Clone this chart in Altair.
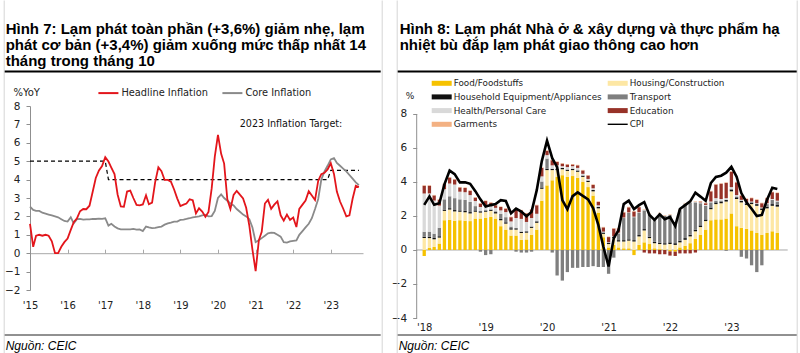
import altair as alt
import pandas as pd

# ---------------- Texts ----------------
title7 = ["Hình 7: Lạm phát toàn phần (+3,6%) giảm nhẹ, lạm",
          "phát cơ bản (+3,4%) giảm xuống mức thấp nhất 14",
          "tháng trong tháng 10"]
title8 = ["Hình 8: Lạm phát Nhà ở & xây dựng và thực phẩm hạ",
          "nhiệt bù đắp lạm phát giao thông cao hơn"]
source_txt = "Nguồn: CEIC"
unit7 = "%YoY"
unit8 = "%"
target_txt = "2023 Inflation Target:"

# ---------------- Figure 7 data: monthly Jan 2015 - Oct 2023 ----------------
headline = [
    1.60, 0.35, 0.95, 1.00, 0.95, 1.00, 0.95, 0.65, 0.00, 0.00, 0.35, 0.60,
    0.80, 1.27, 1.69, 1.89, 2.28, 2.40, 2.39, 2.58, 3.34, 4.09, 4.50, 4.74,
    5.22, 4.98, 4.65, 4.30, 3.19, 2.54, 2.52, 3.35, 3.40, 3.00, 2.62, 2.60,
    2.65, 3.15, 2.66, 2.75, 3.86, 4.67, 4.46, 3.98, 3.98, 3.89, 3.46, 2.98,
    2.56, 2.64, 2.70, 2.93, 2.88, 2.16, 2.44, 2.26, 1.98, 2.24, 3.52, 5.23,
    6.43, 5.40, 4.87, 2.93, 2.40, 3.17, 3.39, 3.18, 2.98, 2.47, 1.48, 0.19,
    -0.97, 0.70, 1.16, 2.70, 2.90, 2.41, 2.64, 2.82, 2.06, 1.77, 2.10, 1.81,
    1.94, 1.42, 2.41, 2.64, 2.86, 3.37, 3.14, 2.89, 3.94, 4.30, 4.37, 4.55,
    4.89, 4.31, 3.35, 2.81, 2.43, 2.00, 2.06, 2.96, 3.66, 3.59,
]
core = [
    2.53, 2.35, 2.30, 2.30, 2.20, 2.15, 2.10, 2.05, 2.00, 1.95, 1.85, 1.75,
    1.72, 1.95, 1.62, 1.85, 1.87, 1.83, 1.84, 1.84, 1.86, 1.86, 1.88, 1.87,
    1.90, 1.50, 1.60, 1.45, 1.35, 1.30, 1.30, 1.30, 1.30, 1.32, 1.28, 1.29,
    1.20, 1.45, 1.40, 1.36, 1.38, 1.42, 1.45, 1.55, 1.62, 1.66, 1.72, 1.72,
    1.81, 1.83, 1.86, 1.90, 1.95, 1.98, 2.00, 2.05, 2.08, 2.00, 2.02, 2.30,
    3.00, 3.20, 3.00, 2.85, 2.70, 2.60, 2.40, 2.25, 2.10, 2.00, 1.85, 1.40,
    0.60, 0.70, 0.82, 0.95, 1.08, 1.12, 1.10, 1.00, 0.90, 0.60, 0.58, 0.64,
    0.67, 0.70, 1.00, 1.20, 1.40, 1.60, 1.90, 2.40, 2.95, 4.00, 4.45, 4.75,
    5.10, 5.17, 4.90, 4.75, 4.60, 4.45, 4.25, 4.05, 3.85, 3.70,
]
series7 = ["Headline Inflation", "Core Inflation"]
colors7 = ["#e3151b", "#8a8a8a"]
target_dates = ["2015-01-01", "2017-01-01", "2017-02-01", "2022-12-01", "2023-01-01", "2023-10-01"]
target_vals = [5.0, 5.0, 4.0, 4.0, 4.5, 4.5]

# ---------------- Figure 8 data: monthly Jan 2018 - Oct 2023 ----------------
# stacking order (bottom -> top)
cats = ["Food/Foodstuffs", "Housing/Construction", "Household Equipment/Appliances",
        "Transport", "Health/Personal Care", "Education", "Garments"]
# legend order (Vega fills the 2 legend columns top-down)
legend_order = ["Food/Foodstuffs", "Household Equipment/Appliances", "Health/Personal Care", "Garments",
                "Housing/Construction", "Transport", "Education", "CPI"]
legend_colors = ["#f6c200", "#111111", "#d9d9d9", "#f3b183",
                 "#fde7a4", "#7f7f7f", "#973228", "#000000"]

food = [
    -0.35, 0.12, 0.18, 0.38, 1.75, 1.78, 1.72, 1.75, 1.72, 1.70, 1.85, 1.85,
    1.90, 1.95, 1.85, 1.40, 1.20, 0.85, 0.85, 0.60, 0.62, 0.90, 1.20, 2.90,
    3.80, 4.10, 4.30, 4.40, 4.30, 4.35, 4.25, 4.00, 3.70, 3.20, 2.20, 0.75,
    0.15, 0.30, 0.15, 0.10, 0.10, -0.30, 0.30, 0.45, 0.35, 0.10, 0.05, 0.02,
    -0.08, -0.10, 0.15, 0.25, 0.40, 0.65, 0.90, 1.20, 1.75, 1.80, 1.80, 1.85,
    2.15, 1.40, 1.30, 1.25, 1.15, 1.00, 0.90, 1.00, 1.10, 1.00,
]
housing = [
    0.70, 0.58, 0.45, 0.35, 0.55, 0.60, 0.55, 0.50, 0.50, 0.45, 0.40, 0.35,
    0.35, 0.35, 0.30, 0.35, 0.35, 0.35, 0.35, 0.40, 0.40, 0.40, 0.40, 0.70,
    0.90, 0.60, 0.40, 0.35, 0.35, 0.35, 0.35, 0.30, 0.30, 0.25, 0.25, 0.20,
    0.20, 0.40, 0.35, 0.40, 0.45, 0.50, 0.50, 0.70, 0.35, 0.30, 0.30, 0.30,
    0.35, 0.30, 0.30, 0.35, 0.40, 0.45, 0.45, 0.50, 0.65, 0.90, 0.95, 1.00,
    1.30, 1.60, 1.50, 1.40, 1.55, 1.60, 1.45, 1.45, 1.50, 1.55,
]
household = [
    0.08, 0.08, 0.08, 0.08, 0.08, 0.08, 0.08, 0.08, 0.08, 0.08, 0.08, 0.08,
    0.08, 0.08, 0.08, 0.08, 0.08, 0.08, 0.08, 0.08, 0.08, 0.08, 0.08, 0.08,
    0.08, 0.08, 0.08, 0.08, 0.08, 0.08, 0.08, 0.08, 0.08, 0.08, 0.08, 0.08,
    0.08, 0.08, 0.08, 0.08, 0.08, 0.08, 0.08, 0.08, 0.08, 0.08, 0.08, 0.08,
    0.10, 0.10, 0.10, 0.10, 0.10, 0.10, 0.10, 0.10, 0.10, 0.10, 0.10, 0.10,
    0.10, 0.10, 0.10, 0.10, 0.10, 0.10, 0.10, 0.10, 0.10, 0.10,
]
transport = [
    0.30, 0.30, 0.25, 0.50, 0.60, 0.70, 0.70, 0.65, 0.65, 0.60, 0.25, -0.10,
    -0.30, -0.25, 0.05, 0.30, 0.30, 0.10, -0.10, -0.15, -0.15, -0.10, 0.05, 0.35,
    0.60, -0.15, -1.50, -1.80, -1.30, -1.05, -1.05, -1.00, -1.00, -0.95, -1.00, -1.00,
    -1.40, -0.45, 0.40, 1.30, 1.55, 1.35, 1.30, 1.10, 1.30, 1.30, 1.70, 1.60,
    1.60, 1.10, 1.80, 2.00, 1.90, 1.60, 1.30, 0.80, 0.30, 0.10, 0.05, -0.05,
    0.05, 0.05, -0.40, -0.50, -0.90, -1.30, -0.90, 0.15, 0.25, 0.20,
]
health = [
    2.25, 2.25, 1.95, 1.30, 0.60, 0.75, 0.80, 0.45, 0.45, 0.40, 0.30, 0.25,
    0.30, 0.20, 0.20, 0.20, 0.30, 0.30, 0.60, 0.75, 0.55, 0.50, 0.40, 0.30,
    0.20, 0.20, 0.20, 0.10, 0.15, 0.15, 0.15, 0.10, 0.10, 0.10, 0.10, 0.05,
    0.03, 0.03, 0.04, 0.03, 0.03, 0.03, 0.04, 0.03, 0.03, 0.03, 0.03, 0.03,
    0.03, 0.03, 0.03, 0.04, 0.04, 0.04, 0.05, 0.05, 0.05, 0.15, 0.10, 0.10,
    0.10, 0.08, 0.05, 0.05, 0.05, 0.05, 0.05, 0.05, 0.05, 0.05,
]
education = [
    0.45, 0.45, 0.30, 0.35, 0.30, 0.35, 0.30, 0.25, 0.25, 0.25, 0.20, 0.20,
    0.25, 0.20, 0.15, 0.20, 0.20, 0.25, 0.55, 0.50, 0.50, 0.50, 0.50, 0.50,
    0.25, 0.30, 0.20, 0.15, 0.15, 0.10, 0.15, 0.20, 0.20, 0.20, 0.20, 0.25,
    0.30, 0.45, 0.25, 0.30, 0.30, 0.30, 0.30, -0.15, -0.20, -0.20, -0.25, -0.25,
    -0.25, -0.25, -0.20, -0.20, -0.20, -0.15, 0.05, 0.10, 0.60, 0.80, 0.90, 0.90,
    0.90, 0.75, 0.25, 0.20, 0.20, 0.20, 0.25, 0.30, 0.40, 0.45,
]
garments = [
    0.03, 0.03, 0.03, 0.03, 0.03, 0.03, 0.03, 0.03, 0.03, 0.03, 0.03, 0.03,
    0.03, 0.03, 0.03, 0.03, 0.03, 0.03, 0.03, 0.03, 0.03, 0.03, 0.03, 0.03,
    0.03, 0.03, 0.03, 0.03, 0.03, 0.03, 0.03, 0.03, 0.03, 0.03, 0.03, 0.03,
    0.03, 0.03, 0.03, 0.03, 0.03, 0.03, 0.03, 0.03, 0.03, 0.03, 0.03, 0.03,
    0.03, 0.03, 0.03, 0.03, 0.03, 0.03, 0.03, 0.03, 0.03, 0.03, 0.03, 0.03,
    0.03, 0.03, 0.03, 0.03, 0.03, 0.03, 0.03, 0.03, 0.03, 0.03,
]
cpi = headline[36:]  # CPI line = headline inflation from Jan 2018

# ---------------- Build tables ----------------
months7 = pd.date_range("2015-01-01", periods=len(headline), freq="MS")
df7 = pd.DataFrame({
    "date": list(months7) * 2,
    "series": [series7[0]] * len(headline) + [series7[1]] * len(core),
    "value": headline + core,
})
dft = pd.DataFrame({"date": pd.to_datetime(target_dates), "value": target_vals})

months8 = pd.date_range("2018-01-01", periods=len(food), freq="MS")
comp = [food, housing, household, transport, health, education, garments]
rows = []
for k, vals in enumerate(comp):
    for d, v in zip(months8, vals):
        rows.append({"date": d, "category": cats[k], "ord": k, "value": v})
df8 = pd.DataFrame(rows)
dfcpi = pd.DataFrame({"date": months8, "cpi": cpi})

ONE = pd.DataFrame({"k": [0]})
FONT_T = "Liberation Sans"
FONT_C = "DejaVu Sans"
GREY_AX = "#8f8f8f"
BORDER = "#d6d6d6"


def txt(s, x, y, size, weight="normal", style="normal", color="#000000", font=FONT_T):
    return alt.Chart(pd.DataFrame({"t": [s]})).mark_text(
        align="left", baseline="middle", fontSize=size, fontWeight=weight,
        fontStyle=style, color=color, font=font
    ).encode(x=alt.value(x), y=alt.value(y), text="t:N")


def hrule(x1, x2, y, w, color):
    return alt.Chart(ONE).mark_rule(strokeWidth=w, color=color).encode(
        x=alt.value(x1), x2=alt.value(x2), y=alt.value(y))


def vrule(x, y1, y2, w, color):
    return alt.Chart(ONE).mark_rule(strokeWidth=w, color=color).encode(
        x=alt.value(x), y=alt.value(y1), y2=alt.value(y2))


# ---------------- Figure 7 ----------------
W7, H7 = 333, 184
x7 = alt.Scale(domain=[alt.DateTime(year=2015, month=1, date=1), alt.DateTime(year=2023, month=11, date=10)])
y7 = alt.Scale(domain=[-2, 8], nice=False, zero=False)
c7 = alt.Scale(domain=series7, range=colors7)

ax7_bottom = alt.Axis(values=[alt.DateTime(year=y, month=1, date=1) for y in range(2015, 2024)],
                      format="'%y", ticks=False, tickSize=0, domain=False, labelPadding=10,
                      title=None, labelFlush=False, labelFont=FONT_C, labelFontSize=10,
                      labelColor="#222222")
ax7_top = alt.Axis(orient="top", offset=-147.2,
                   values=[alt.DateTime(year=y, month=1, date=1) for y in range(2016, 2024)],
                   labels=False, tickSize=4, domainColor="#a8a8a8", tickColor="#a8a8a8", title=None)
ax7_y = alt.Axis(values=list(range(-2, 9)), tickSize=4, labelPadding=6, title=None,
                 domainColor=GREY_AX, tickColor=GREY_AX, labelFont=FONT_C, labelFontSize=10.5,
                 labelColor="#222222")
leg7 = alt.Legend(title=None, orient="none", direction="horizontal", legendX=67.4, legendY=-24,
                  symbolType="stroke", symbolSize=400, symbolStrokeWidth=2, labelOffset=2,
                  columnPadding=10, labelFont=FONT_C, labelFontSize=9.8, labelColor="#222222",
                  padding=0, labelLimit=0)

target = alt.Chart(dft).mark_line(color="black", strokeWidth=1.2, strokeDash=[4, 3]).encode(
    x=alt.X("date:T", scale=x7, axis=ax7_top),
    y=alt.Y("value:Q", scale=y7, axis=None))
core_line = alt.Chart(df7).transform_filter(alt.datum.series == series7[1]).mark_line(strokeWidth=1.8).encode(
    x=alt.X("date:T", scale=x7, axis=ax7_bottom),
    y=alt.Y("value:Q", scale=y7, axis=ax7_y),
    color=alt.Color("series:N", scale=c7, legend=leg7))
head_line = alt.Chart(df7).transform_filter(alt.datum.series == series7[0]).mark_line(strokeWidth=1.8).encode(
    x=alt.X("date:T", scale=x7, axis=None),
    y=alt.Y("value:Q", scale=y7, axis=None),
    color=alt.Color("series:N", scale=c7, legend=leg7))

deco7 = [
    vrule(-25.8, -105.5, 247, 1, BORDER),
    vrule(352.2, -105.5, 247, 1, BORDER),
    txt(title7[0], -24.3, -77.5, 15, weight="bold"),
    txt(title7[1], -24.3, -61.5, 15, weight="bold"),
    txt(title7[2], -24.3, -45.5, 15, weight="bold"),
    hrule(-25.3, 350.7, -34.5, 2, "#000000"),
    txt(unit7, -16.6, -13, 10, color="#222222", font=FONT_C),
    txt(target_txt, 209.7, 18, 9.6, color="#111111", font=FONT_C),
    hrule(-25.3, 350.7, 229, 1, "#222222"),
    txt(source_txt, -24.3, 240, 12, style="italic"),
]

p7 = alt.layer(target, core_line, head_line, *deco7).resolve_axis(
    x="independent", y="independent").properties(width=W7, height=H7)

# ---------------- Figure 8 ----------------
W8, H8 = 371, 212
x8 = alt.Scale(domain=[alt.DateTime(year=2017, month=12, date=17), alt.DateTime(year=2023, month=11, date=2)])
y8 = alt.Scale(domain=[-4, 8.47], nice=False, zero=False)
c8 = alt.Scale(domain=legend_order, range=legend_colors)

ax8_x = alt.Axis(values=[alt.DateTime(year=y, month=1, date=1) for y in range(2018, 2024)],
                 format="'%y", ticks=False, tickSize=0, domain=False, labelPadding=4, title=None,
                 labelFlush=False, labelFont=FONT_C, labelFontSize=10, labelColor="#222222")
ax8_y = alt.Axis(values=[-4, -2, 0, 2, 4, 6, 8], tickSize=4, labelPadding=6, title=None, domain=False,
                 tickColor=GREY_AX, labelFont=FONT_C, labelFontSize=10.5, labelColor="#222222")
shape_expr = "datum.value === 'CPI' ? 'M-2,-0.14H2V0.14H-2Z' : 'M-2,-0.5H2V0.5H-2Z'"
leg8 = alt.Legend(title=None, orient="none", legendX=20, legendY=-27.8, columns=2,
                  symbolSize=100, symbolType=alt.ExprRef(expr=shape_expr), symbolStrokeWidth=0,
                  labelOffset=7, rowPadding=3.7, columnPadding=6, padding=0, labelLimit=0,
                  labelFont=FONT_C, labelFontSize=8.8, labelColor="#222222")

yaxis_line = alt.Chart(ONE).mark_rule(color=GREY_AX, strokeWidth=1).encode(
    x=alt.value(0), y=alt.YDatum(-4, scale=y8, axis=None), y2=alt.Y2Datum(8))
zero_line = alt.Chart(ONE).mark_rule(color="#a8a8a8", strokeWidth=1).encode(
    y=alt.YDatum(0, scale=y8, axis=None))
bars = alt.Chart(df8).mark_bar(size=3.3).encode(
    x=alt.X("date:T", scale=x8, axis=ax8_x),
    y=alt.Y("value:Q", scale=y8, axis=ax8_y, stack="zero"),
    color=alt.Color("category:N", scale=c8, legend=leg8),
    order=alt.Order("ord:Q", sort="ascending"))
cpi_line = alt.Chart(dfcpi).mark_line(color="black", strokeWidth=2.6).encode(
    x=alt.X("date:T", scale=x8, axis=None),
    y=alt.Y("cpi:Q", scale=y8, axis=None))

deco8 = [
    vrule(-19.5, -105.5, 247, 1, BORDER),
    vrule(380.5, -105.5, 247, 1, BORDER),
    txt(title8[0], -17, -77.5, 15, weight="bold"),
    txt(title8[1], -17, -61.5, 15, weight="bold"),
    hrule(-19, 380, -34.5, 2, "#000000"),
    txt(unit8, -11, -10, 9, color="#222222", font=FONT_C),
    hrule(-19, 380, 229, 1, "#222222"),
    txt(source_txt, -18, 240, 12, style="italic"),
]

p8 = alt.layer(zero_line, bars, yaxis_line, cpi_line, *deco8).resolve_axis(
    x="independent", y="independent").properties(width=W8, height=H8)

chart = alt.hconcat(p7, p8, spacing=53.7, bounds="flush").resolve_scale(
    color="independent").resolve_legend(color="independent").properties(
    padding={"left": 3, "top": 0, "right": 0, "bottom": 0}
).configure_view(stroke=None).configure_axis(grid=False)

chart.save("out.html", embed_options={"renderer": "svg", "actions": False})
